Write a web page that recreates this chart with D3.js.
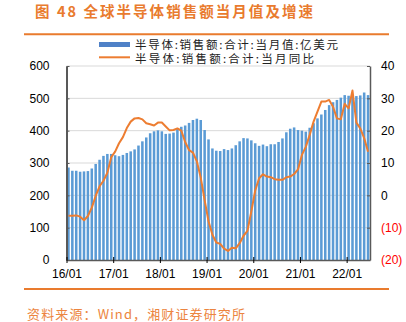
<!DOCTYPE html>
<html><head><meta charset="utf-8">
<script src="https://cdn.jsdelivr.net/npm/d3@7/dist/d3.min.js"></script>
<style>body{margin:0;background:#fff}svg{display:block}</style>
</head><body>
<script>
// ---- data ----
const months = d3.timeMonth.range(new Date(2016,0,1), new Date(2022,6,1)).map(d3.timeFormat("%y/%m"));
const salesValue = [286,276,276,273,274,275,283,297,310,322,328,328,
  324,321,325,331,336,342,354,367,379,392,398,401,
  398,390,391,394,405,412,416,424,433,437,433,402,
  373,345,338,337,343,340,345,355,367,377,376,370,
  361,353,357,352,358,358,365,376,395,406,410,402,
  400,397,409,423,438,450,464,479,488,495,502,510,
  508,510,507,509,518,510];
const salesYoY = [-6.3,-6.3,-6.2,-6.6,-7.7,-6.4,-3.8,-0.2,2.8,4.5,7.0,11.8,
  13.5,16.1,18.0,20.8,22.8,23.8,23.9,23.5,22.3,22.0,21.6,22.5,
  22.5,21.3,20.1,20.2,20.7,20.0,16.5,14.0,13.2,10.5,5.5,-1.5,
  -8.0,-12.2,-14.6,-15.0,-16.5,-17.2,-16.2,-16.4,-14.8,-12.5,-11.0,-5.0,
  1.5,5.3,6.5,5.8,5.6,5.0,4.8,4.8,5.6,5.8,6.6,8.0,
  12.5,15.0,18.7,22.8,25.9,29.0,29.0,29.5,27.4,23.8,23.5,28.3,
  26.9,32.4,22.5,20.7,17.7,13.5];
const xTickLabels = ["16/01","17/01","18/01","19/01","20/01","21/01","22/01"];
const leftTicks = [0,100,200,300,400,500,600];
const rightTicks = [-20,-10,0,10,20,30,40];
const title = "图 48 全球半导体销售额当月值及增速";
const legendBar = "半导体:销售额:合计:当月值:亿美元";
const legendLine = "半导体:销售额:合计:当月同比";
const sourceText = "资料来源：Wind，湘财证券研究所";

// ---- layout ----
const W = 406, H = 322;
const L = 66.5, R = 370, T = 66, B = 260;
const ORANGE = "#e97b2e", BLUE = "#5b9bd5", LINE = "#ed7d31", AX = "#595959";
const cjk = "'Noto Sans CJK SC', sans-serif";
const latin = "'Liberation Sans', Arial, sans-serif";

const svg = d3.select("body").append("svg").attr("width", W).attr("height", H);

const x = d3.scaleBand().domain(months).range([L, R]).paddingInner(0.35).paddingOuter(0.175);
const xi = d3.scaleLinear().domain([0, months.length]).range([L, R]);
const yL = d3.scaleLinear().domain([0, 600]).range([B, T]);
const yR = d3.scaleLinear().domain([-20, 40]).range([B, T]);

// title & rules
svg.append("text").attr("x", 35).attr("y", 10.5).attr("dominant-baseline", "central")
  .attr("font-family", cjk).attr("font-weight", "bold").attr("font-size", 14.5)
  .attr("fill", ORANGE).attr("textLength", 278).attr("lengthAdjust", "spacing").text(title);
svg.append("line").attr("x1", 24).attr("x2", 389).attr("y1", 34.3).attr("y2", 34.3)
  .attr("stroke", ORANGE).attr("stroke-width", 2);
svg.append("line").attr("x1", 24).attr("x2", 389).attr("y1", 289).attr("y2", 289)
  .attr("stroke", ORANGE).attr("stroke-width", 2);
svg.append("text").attr("x", 27).attr("y", 313).attr("dominant-baseline", "central")
  .attr("font-family", cjk).attr("font-size", 13).attr("fill", "#ec8540")
  .attr("textLength", 218).attr("lengthAdjust", "spacing").text(sourceText);

// gridlines
svg.append("g").selectAll("line").data(leftTicks.filter(d => d > 0)).join("line")
  .attr("x1", L).attr("x2", R).attr("y1", d => yL(d)).attr("y2", d => yL(d))
  .attr("stroke", "#d9d9d9").attr("stroke-width", 1);

// bars
svg.append("g").selectAll("rect").data(salesValue).join("rect")
  .attr("x", (d, i) => x(months[i])).attr("width", x.bandwidth())
  .attr("y", d => yL(d)).attr("height", d => yL(0) - yL(d))
  .attr("fill", BLUE);

// line
svg.append("path").datum(salesYoY)
  .attr("d", d3.line().x((d, i) => x(months[i]) + x.bandwidth() / 2).y(d => yR(d)))
  .attr("fill", "none").attr("stroke", LINE).attr("stroke-width", 2).attr("stroke-linejoin", "round");

// axes
const axL = svg.append("g").attr("transform", `translate(${L},0)`)
  .call(d3.axisLeft(yL).tickValues(leftTicks).tickSizeInner(-3).tickSizeOuter(0).tickPadding(17));
axL.select(".domain").attr("stroke", AX).attr("stroke-width", 2);
axL.selectAll(".tick line").attr("stroke", AX);
axL.selectAll(".tick text").attr("font-family", latin).attr("font-size", 12).attr("fill", "#000");

const axR = svg.append("g").attr("transform", `translate(${R},0)`)
  .call(d3.axisRight(yR).tickValues(rightTicks).tickSizeInner(-3).tickSizeOuter(0).tickPadding(11)
    .tickFormat(d => d < 0 ? `(${-d})` : d));
axR.select(".domain").attr("stroke", AX).attr("stroke-width", 1.5);
axR.selectAll(".tick line").attr("stroke", AX);
axR.selectAll(".tick text").attr("font-family", latin).attr("font-size", 12)
  .attr("fill", d => d < 0 ? "#ff0000" : "#000");

const axB = svg.append("g").attr("transform", `translate(0,${B})`)
  .call(d3.axisBottom(xi).tickValues(xTickLabels.map((d, i) => i * 12)).tickSizeInner(3).tickSizeOuter(0).tickPadding(6)
    .tickFormat((d, i) => xTickLabels[i]));
axB.select(".domain").attr("stroke", AX).attr("stroke-width", 1.5);
axB.selectAll(".tick line").attr("stroke", "#000").attr("y1", -3).attr("y2", 3);
axB.selectAll(".tick text").attr("font-family", latin).attr("font-size", 12).attr("fill", "#000");

// legend
const lg = svg.append("g");
lg.append("rect").attr("x", 99).attr("y", 42).attr("width", 31).attr("height", 5).attr("fill", "#4f81c7");
lg.append("text").attr("x", 135).attr("y", 44.3).attr("dominant-baseline", "central")
  .attr("font-family", cjk).attr("font-size", 11.5).attr("fill", "#222")
  .attr("textLength", 203).attr("lengthAdjust", "spacing").text(legendBar);
lg.append("line").attr("x1", 99).attr("x2", 130).attr("y1", 57.3).attr("y2", 57.3)
  .attr("stroke", LINE).attr("stroke-width", 2);
lg.append("text").attr("x", 135).attr("y", 57.7).attr("dominant-baseline", "central")
  .attr("font-family", cjk).attr("font-size", 11.5).attr("fill", "#222")
  .attr("textLength", 179).attr("lengthAdjust", "spacing").text(legendLine);
</script>
</body></html>
